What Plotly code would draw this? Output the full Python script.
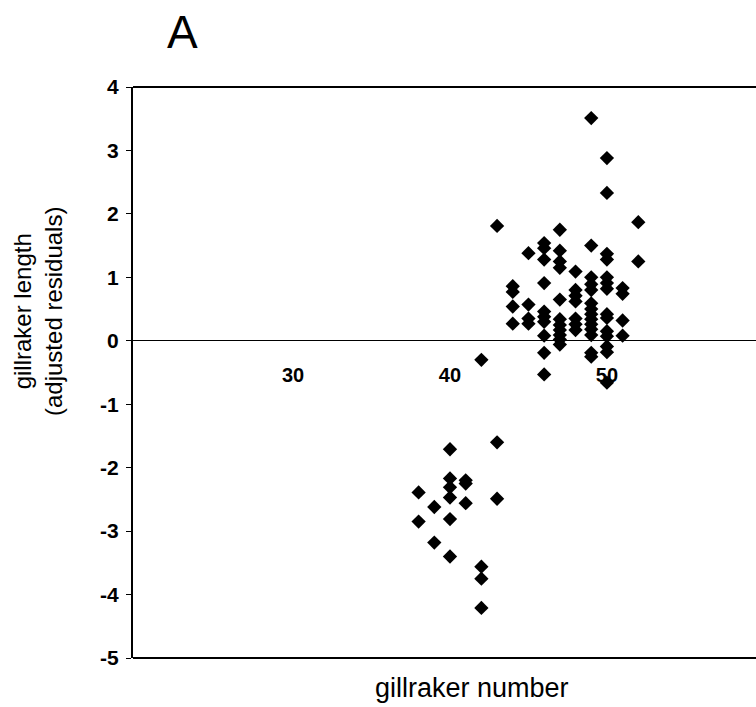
import plotly.graph_objects as go

# gillraker number (x) and adjusted residuals of gillraker length (y)
gill_number = (
    [38] * 2 + [39] * 2 + [40] * 6 + [41] * 3 + [42] * 4 + [43] * 3 + [44] * 4 + [45] * 4
    + [46] * 10 + [47] * 11 + [48] * 7 + [49] * 14 + [50] * 14 + [51] * 4 + [52] * 2
)
gill_length_resid = [
    -2.39, -2.85,
    -2.62, -3.18,
    -1.71, -2.17, -2.31, -2.47, -2.81, -3.40,
    -2.20, -2.25, -2.56,
    -0.30, -3.56, -3.75, -4.21,
    1.81, -1.60, -2.49,
    0.86, 0.77, 0.54, 0.27,
    1.38, 0.57, 0.35, 0.27,
    1.54, 1.46, 1.28, 0.91, 0.46, 0.38, 0.30, 0.08, -0.19, -0.53,
    1.75, 1.42, 1.25, 1.15, 0.65, 0.34, 0.25, 0.17, 0.09, 0.02, -0.06,
    1.09, 0.80, 0.71, 0.62, 0.35, 0.26, 0.17,
    3.51, 1.50, 1.00, 0.89, 0.80, 0.59, 0.50, 0.42, 0.34, 0.26, 0.18, 0.09, -0.19, -0.25,
    2.88, 2.33, 1.37, 1.28, 1.00, 0.91, 0.82, 0.42, 0.36, 0.15, 0.07, -0.09, -0.18, -0.66,
    0.83, 0.74, 0.32, 0.08,
    1.87, 1.25,
]
x_ticks = [30, 40, 50]
y_ticks = [4, 3, 2, 1, 0, -1, -2, -3, -4, -5]

FONT = "Liberation Sans, Arial, Helvetica, sans-serif"

fig = go.Figure()
fig.add_trace(go.Scatter(
    x=gill_number, y=gill_length_resid, mode="markers",
    marker=dict(symbol="diamond", size=11, color="black", line=dict(width=0)),
    showlegend=False, cliponaxis=False,
))

fig.update_layout(
    width=756, height=707,
    margin=dict(l=133, r=0, t=87, b=49),
    paper_bgcolor="white", plot_bgcolor="white",
    font=dict(family=FONT, color="black"),
    xaxis=dict(
        range=[19.8, 59.5], anchor="free", position=5 / 9,
        showline=False, showgrid=False, zeroline=False,
        tickvals=x_ticks, ticktext=[str(v) for v in x_ticks], ticks="",
        ticklabelstandoff=20, tickfont=dict(size=20, family=FONT, weight="bold"),
    ),
    yaxis=dict(
        range=[-5, 4], showline=True, linecolor="black", linewidth=2,
        showgrid=False, zeroline=True, zerolinecolor="black", zerolinewidth=1,
        tickvals=y_ticks, ticktext=[str(v) for v in y_ticks],
        ticks="outside", ticklen=5, tickwidth=1, tickcolor="black",
        ticklabelstandoff=3,
        tickfont=dict(size=21, family=FONT, weight="bold"),
    ),
    shapes=[
        dict(type="line", xref="paper", yref="paper", x0=0, x1=1, y0=1, y1=1,
             line=dict(color="black", width=2)),
        dict(type="line", xref="paper", yref="paper", x0=0, x1=1, y0=0, y1=0,
             line=dict(color="black", width=2)),
    ],
    annotations=[
        dict(text="A", xref="paper", yref="paper", x=(182 - 133) / 623, y=(658 - 32) / 571,
             showarrow=False, font=dict(size=46, family=FONT), xanchor="center", yanchor="middle"),
        dict(text="gillraker length<br>(adjusted residuals)", xref="paper", yref="paper",
             x=-(133 - 38) / 623, y=(658 - 312) / 571, textangle=-90, showarrow=False,
             font=dict(size=24, family=FONT), xanchor="center", yanchor="middle"),
        dict(text="gillraker number", xref="paper", yref="paper",
             x=(472 - 133) / 623, y=-(688 - 658) / 571, showarrow=False,
             font=dict(size=27, family=FONT), xanchor="center", yanchor="middle"),
    ],
)

fig.write_html("out.html")
